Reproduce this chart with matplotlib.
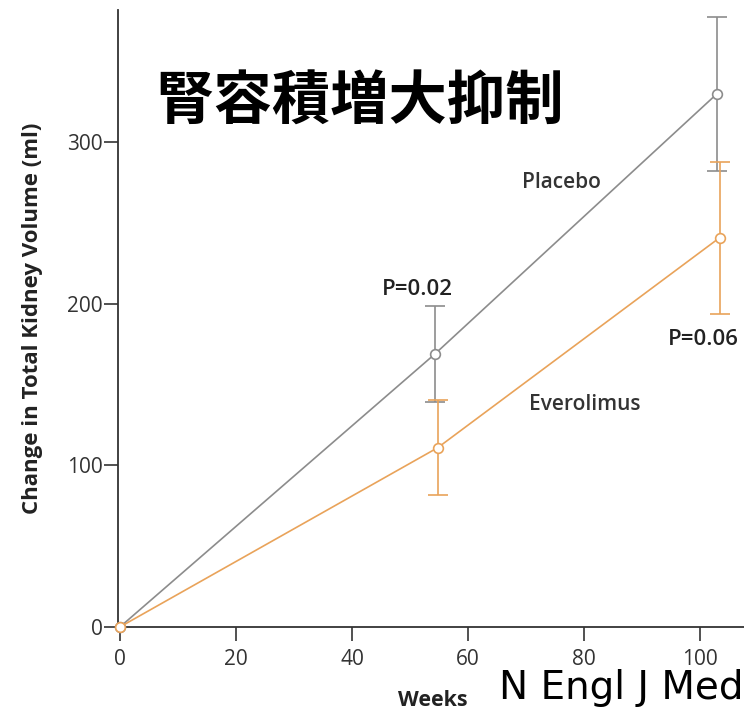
import matplotlib.pyplot as plt

# Change in total kidney volume over time, placebo vs everolimus
placebo_weeks = [0, 54.3, 102.9]
placebo_vol = [0, 169, 330]
placebo_err = [0, 29.5, 47.5]

evero_weeks = [0, 54.8, 103.4]
evero_vol = [0, 111, 241]
evero_err = [0, 29.5, 47]

x_ticks = [0, 20, 40, 60, 80, 100]
y_ticks = [0, 100, 200, 300]

gray = '#8c8c8c'
orange = '#e9a35a'

plt.rcParams['font.family'] = ['Open Sans', 'DejaVu Sans']

fig = plt.figure(figsize=(7.44, 7.14), dpi=100)
ax = fig.add_axes([0.159, 0.122, 0.841, 0.864])

for wk, vol, err, col in [(placebo_weeks, placebo_vol, placebo_err, gray),
                          (evero_weeks, evero_vol, evero_err, orange)]:
    ax.plot(wk, vol, color=col, lw=1.2, marker='o', ms=7, mfc='white',
            mec=col, mew=1.2, clip_on=False, zorder=3)
    ax.errorbar(wk[1:], vol[1:], yerr=err[1:], fmt='none', ecolor=col,
                elinewidth=1.2, capsize=7, capthick=1.2, zorder=2)

ax.set_xlim(-0.3, 107.6)
ax.set_ylim(0, 382)
ax.set_xticks(x_ticks)
ax.set_yticks(y_ticks)
ax.tick_params(axis='both', direction='out', length=10, width=1.2,
               colors='#333333', labelsize=15)
ax.tick_params(axis='y', pad=1)
ax.tick_params(axis='x', pad=6)
for side in ['top', 'right']:
    ax.spines[side].set_visible(False)
for side in ['left', 'bottom']:
    ax.spines[side].set_color('#333333')
    ax.spines[side].set_linewidth(1.3)

ax.set_ylabel('Change in Total Kidney Volume (ml)', fontsize=16,
              fontweight='bold', color='#222222')
ax.yaxis.set_label_coords(-0.121, 0.5)

ax.text(76.2, 275, 'Placebo', fontsize=15, fontweight='semibold',
        color='#333333', ha='center', va='center')
ax.text(80.2, 137.6, 'Everolimus', fontsize=15, fontweight='semibold',
        color='#333333', ha='center', va='center')
ax.text(51.2, 209, 'P=0.02', fontsize=16, fontweight='semibold',
        color='#222222', ha='center', va='center')
ax.text(100.5, 178, 'P=0.06', fontsize=16, fontweight='semibold',
        color='#222222', ha='center', va='center')

fig.text(0.582, 0.0196, 'Weeks', fontsize=15.5, fontweight='bold', color='#222222',
         ha='center', va='center')
fig.text(0.484, 0.856, '腎容積増大抑制', fontsize=42, fontweight='bold',
         family=['Noto Sans CJK JP', 'DejaVu Sans'], ha='center', va='center')
fig.text(0.999, 0.037, 'N Engl J Med', fontsize=28, color='black',
         family=['DejaVu Sans'], ha='right', va='center')

fig.savefig('out.png', dpi=100)
